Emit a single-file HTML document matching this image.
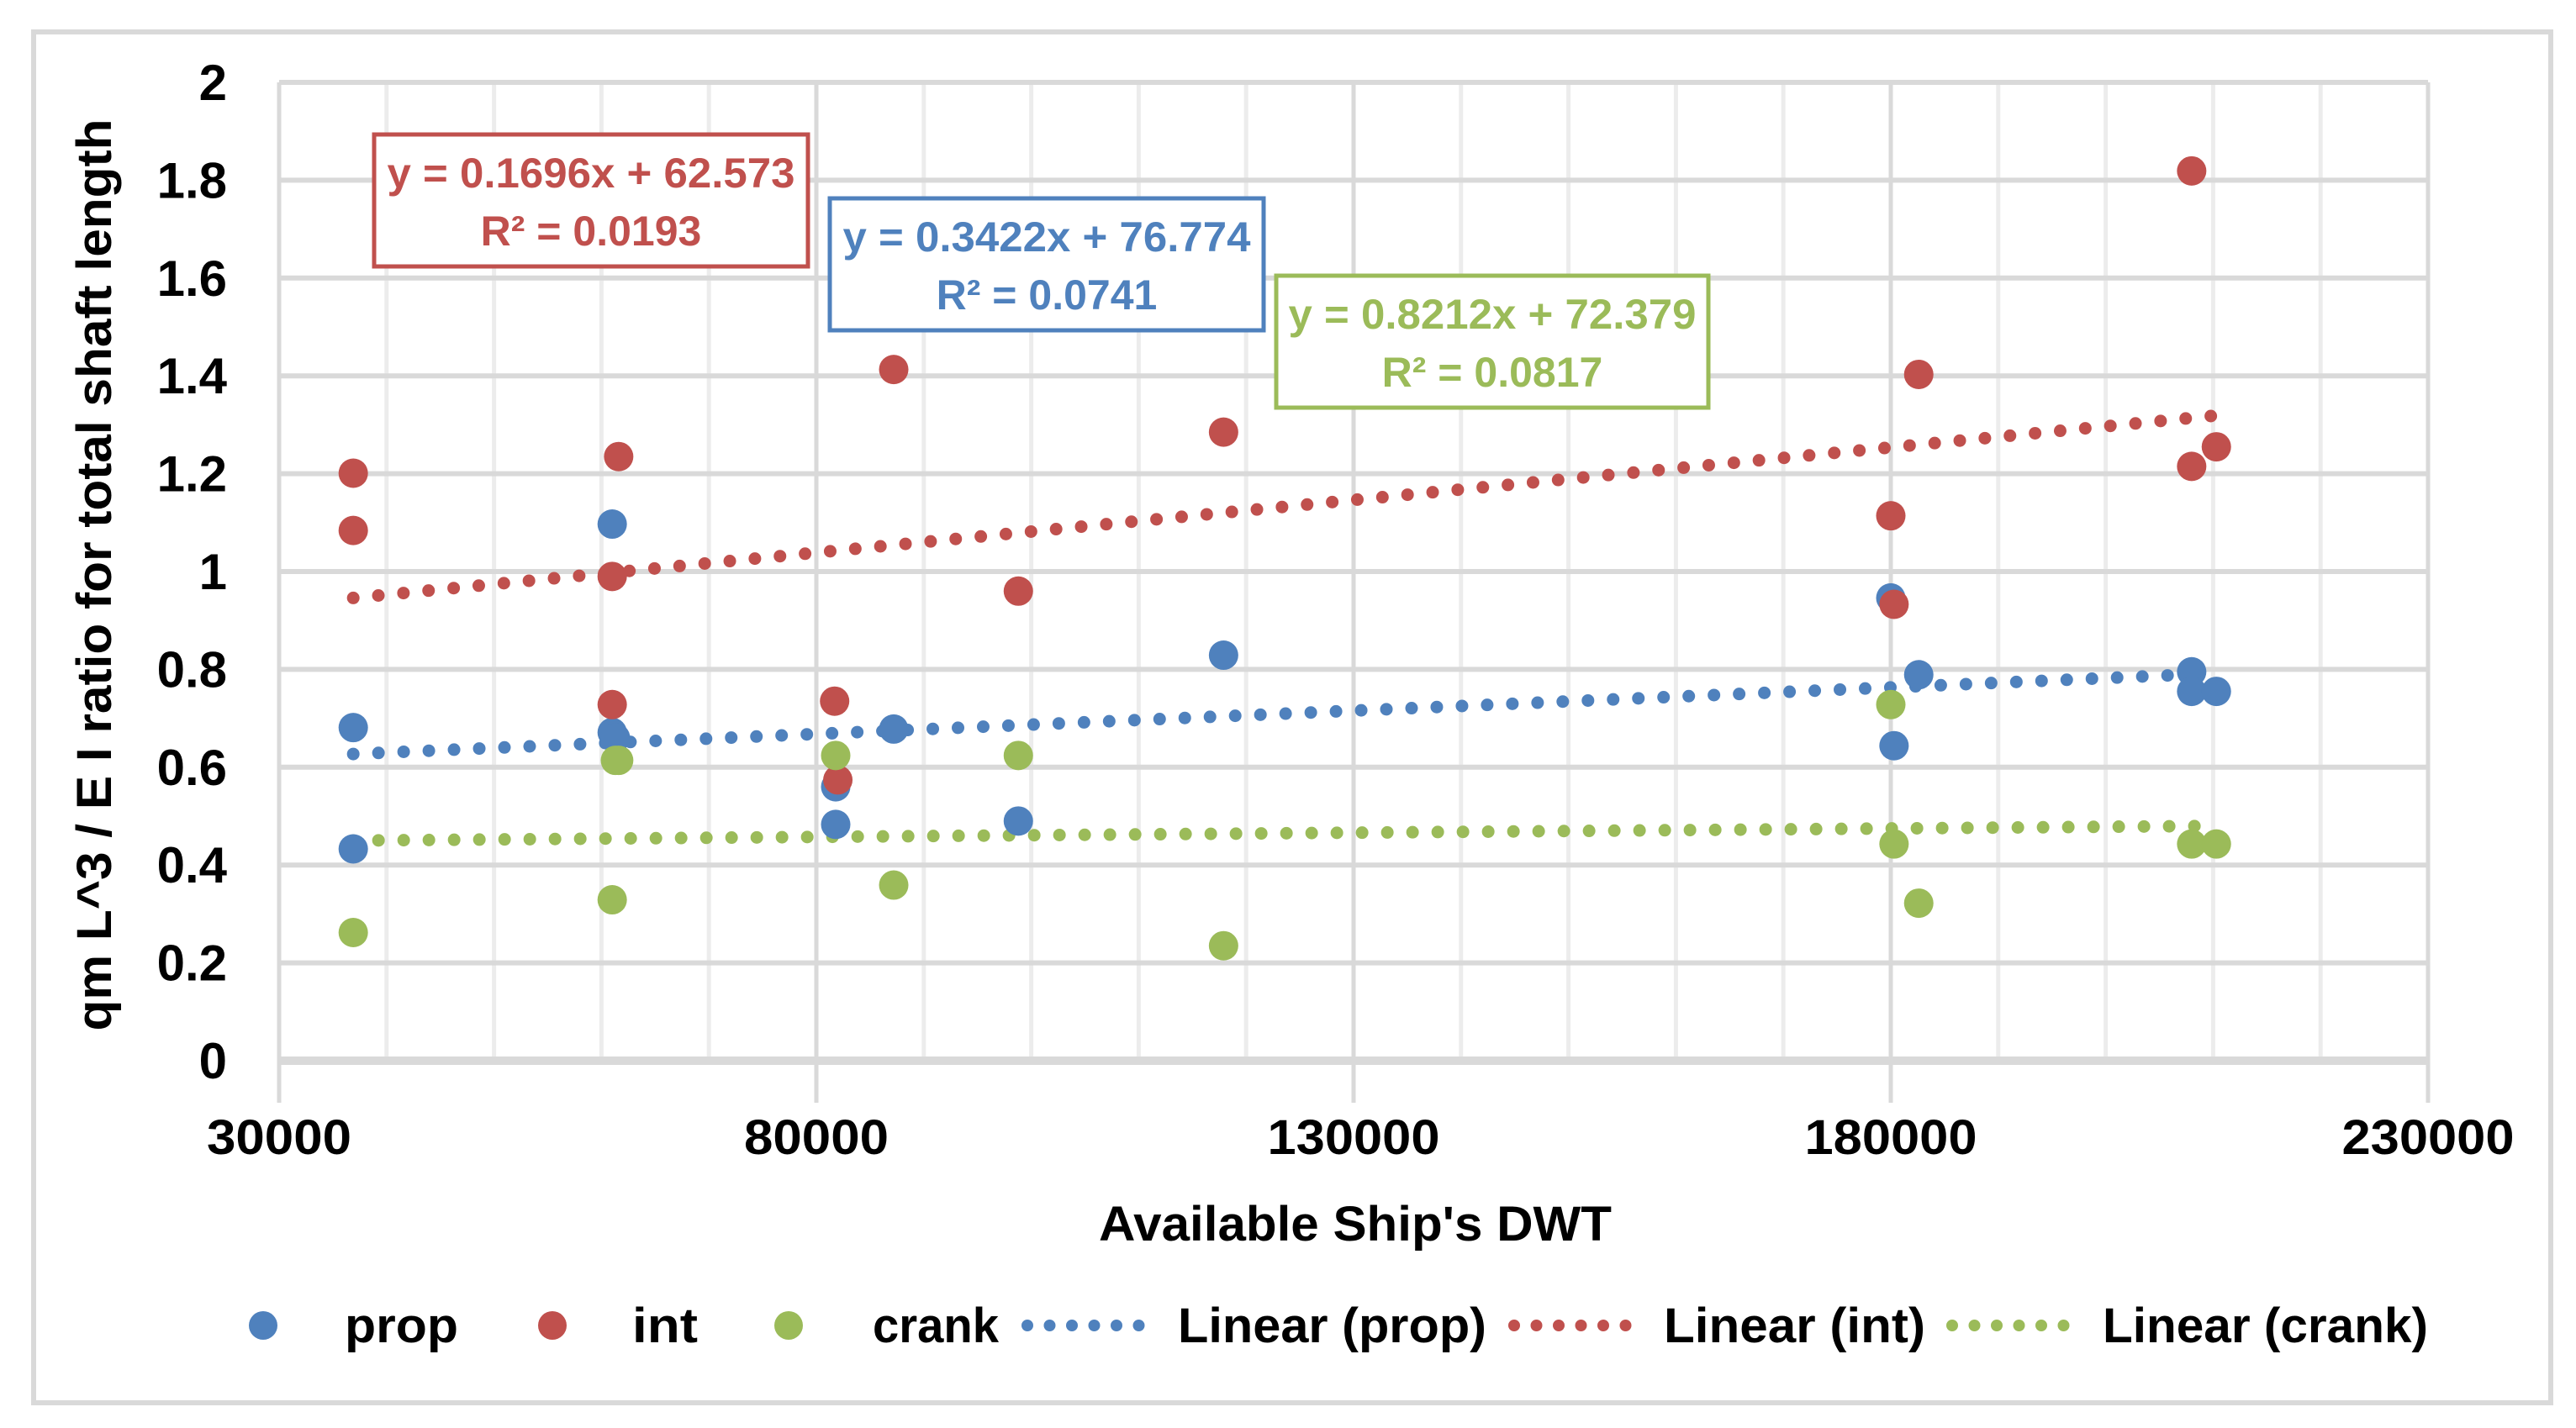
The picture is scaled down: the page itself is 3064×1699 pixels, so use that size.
<!DOCTYPE html>
<html><head><meta charset="utf-8"><style>
html,body{margin:0;padding:0;background:#fff;}
svg{display:block;font-family:"Liberation Sans",sans-serif;font-weight:bold;}
</style></head><body>
<svg id="chart" width="3064" height="1699" viewBox="0 0 3064 1699" xmlns="http://www.w3.org/2000/svg">
<rect x="40" y="38" width="2994" height="1631" fill="#fff" stroke="#d9d9d9" stroke-width="6"/>
<g id="grid"></g>
<g id="axes"></g>
<g id="trends"></g>
<g id="points"></g>
<g>
<rect x="445" y="160" width="516" height="157" fill="#fff" stroke="#C0504D" stroke-width="5"/>
<text x="703" y="223" text-anchor="middle" font-size="50" fill="#C0504D" textLength="485" lengthAdjust="spacingAndGlyphs">y = 0.1696x + 62.573</text>
<text x="703" y="292" text-anchor="middle" font-size="50" fill="#C0504D">R² = 0.0193</text>
</g>
<g>
<rect x="987" y="236" width="516" height="157" fill="#fff" stroke="#4F81BD" stroke-width="5"/>
<text x="1245" y="299" text-anchor="middle" font-size="50" fill="#4F81BD" textLength="485" lengthAdjust="spacingAndGlyphs">y = 0.3422x + 76.774</text>
<text x="1245" y="368" text-anchor="middle" font-size="50" fill="#4F81BD">R² = 0.0741</text>
</g>
<g>
<rect x="1518" y="328" width="514" height="157" fill="#fff" stroke="#9BBB59" stroke-width="5"/>
<text x="1775" y="391" text-anchor="middle" font-size="50" fill="#9BBB59" textLength="485" lengthAdjust="spacingAndGlyphs">y = 0.8212x + 72.379</text>
<text x="1775" y="460" text-anchor="middle" font-size="50" fill="#9BBB59">R² = 0.0817</text>
</g>
<text x="1612" y="1476" text-anchor="middle" font-size="58" textLength="610" lengthAdjust="spacingAndGlyphs">Available Ship's DWT</text>
<text transform="translate(132,684) rotate(-90)" text-anchor="middle" font-size="58" textLength="1085" lengthAdjust="spacingAndGlyphs">qm L^3 / E I ratio for total shaft length</text>
<g>
<circle cx="313" cy="1577" r="17" fill="#4F81BD"/>
<text x="410" y="1597" font-size="58" textLength="135" lengthAdjust="spacingAndGlyphs">prop</text>
<circle cx="657" cy="1577" r="17" fill="#C0504D"/>
<text x="752" y="1597" font-size="58" textLength="78" lengthAdjust="spacingAndGlyphs">int</text>
<circle cx="938" cy="1577" r="17" fill="#9BBB59"/>
<text x="1038" y="1597" font-size="58" textLength="150" lengthAdjust="spacingAndGlyphs">crank</text>
<line x1="1222" y1="1577" x2="1381" y2="1577" stroke="#4F81BD" stroke-width="14" stroke-dasharray="0 26.5" stroke-linecap="round"/>
<text x="1401" y="1597" font-size="58" textLength="367" lengthAdjust="spacingAndGlyphs">Linear (prop)</text>
<line x1="1801" y1="1577" x2="1960" y2="1577" stroke="#C0504D" stroke-width="14" stroke-dasharray="0 26.5" stroke-linecap="round"/>
<text x="1979" y="1597" font-size="58" textLength="311" lengthAdjust="spacingAndGlyphs">Linear (int)</text>
<line x1="2322" y1="1577" x2="2481" y2="1577" stroke="#9BBB59" stroke-width="14" stroke-dasharray="0 26.5" stroke-linecap="round"/>
<text x="2501" y="1597" font-size="58" textLength="387" lengthAdjust="spacingAndGlyphs">Linear (crank)</text>
</g>
</svg>
<script>
const xTicks = [30000, 80000, 130000, 180000, 230000];
const yTicks = [0, 0.2, 0.4, 0.6, 0.8, 1, 1.2, 1.4, 1.6, 1.8, 2];
const yTickLabels = ["0","0.2","0.4","0.6","0.8","1","1.2","1.4","1.6","1.8","2"];
const propX = [36900, 36900, 61000, 61000, 61300, 81800, 81800, 87200, 98800, 117900, 180000, 180300, 182600, 208000, 208000, 210300];
const propY = [0.681, 0.433, 1.097, 0.671, 0.660, 0.560, 0.483, 0.678, 0.490, 0.829, 0.946, 0.644, 0.789, 0.795, 0.755, 0.755];
const intX = [36900, 36900, 61600, 61000, 61000, 81700, 82000, 87200, 98800, 117900, 180000, 180300, 182600, 208000, 208000, 210300];
const intY = [1.201, 1.084, 1.235, 0.990, 0.728, 0.735, 0.574, 1.413, 0.960, 1.285, 1.114, 0.933, 1.403, 1.819, 1.215, 1.255];
const crankX = [36900, 61000, 61300, 61600, 81800, 87200, 98800, 117900, 180000, 180300, 182600, 208000, 210300];
const crankY = [0.262, 0.329, 0.614, 0.614, 0.624, 0.359, 0.624, 0.235, 0.728, 0.443, 0.322, 0.443, 0.443];
const trendX = [36900, 210300];
const trendProp = [0.627, 0.792];
const trendInt = [0.946, 1.319];
const trendCrank = [0.450, 0.480];

const NS = "http://www.w3.org/2000/svg";
const X0 = 332, X1 = 2888, Y0 = 1262, Y1 = 98;
const xMin = 30000, xMax = 230000, yMin = 0, yMax = 2;
function sx(v){ return X0 + (v - xMin) / (xMax - xMin) * (X1 - X0); }
function sy(v){ return Y0 - (v - yMin) / (yMax - yMin) * (Y0 - Y1); }
function mk(tag, attrs, parent){
  const e = document.createElementNS(NS, tag);
  for (const k in attrs) e.setAttribute(k, attrs[k]);
  parent.appendChild(e);
  return e;
}
const grid = document.getElementById('grid');
const axes = document.getElementById('axes');
for (let v = xMin; v <= xMax; v += 10000) {
  const major = (v - xMin) % 50000 === 0;
  const l = mk('line', {x1: sx(v), x2: sx(v), y1: Y1, y2: major ? Y0 + 50 : Y0, stroke: major ? '#d9d9d9' : '#ececec', 'stroke-width': 5}, grid);
  
  
}
yTicks.forEach((v, i) => {
  const l = mk('line', {x1: X0, x2: X1, y1: sy(v), y2: sy(v), stroke: '#d9d9d9', 'stroke-width': v === 0 ? 10 : 6}, grid);
  
  
  const t = mk('text', {x: 270, y: sy(v) + 21, 'text-anchor': 'end', 'font-size': 60}, axes);
  t.textContent = yTickLabels[i];
  
  
});
xTicks.forEach(v => {
  const t = mk('text', {x: sx(v), y: 1373, 'text-anchor': 'middle', 'font-size': 58, textLength: 205, lengthAdjust: 'spacingAndGlyphs'}, axes);
  if (String(v).length < 6) t.setAttribute('textLength', 172);
  t.textContent = String(v);
  
  
});
const trends = document.getElementById('trends');
[[trendProp, '#4F81BD', 'trendline-prop'], [trendInt, '#C0504D', 'trendline-int'], [trendCrank, '#9BBB59', 'trendline-crank']].forEach(([ys, c, n]) => {
  const l = mk('line', {x1: sx(trendX[0]), y1: sy(ys[0]), x2: sx(trendX[1]), y2: sy(ys[1]), stroke: c, 'stroke-width': 15, 'stroke-dasharray': '0 30', 'stroke-linecap': 'round'}, trends);
  
  
});
const pts = document.getElementById('points');
[[propX, propY, '#4F81BD', 'point-prop'], [intX, intY, '#C0504D', 'point-int'], [crankX, crankY, '#9BBB59', 'point-crank']].forEach(([xs, ys, c, n]) => {
  xs.forEach((x, i) => {
    const p = mk('circle', {cx: sx(x), cy: sy(ys[i]), r: 17.5, fill: c}, pts);
    
    
  });
});
</script>
</body></html>
